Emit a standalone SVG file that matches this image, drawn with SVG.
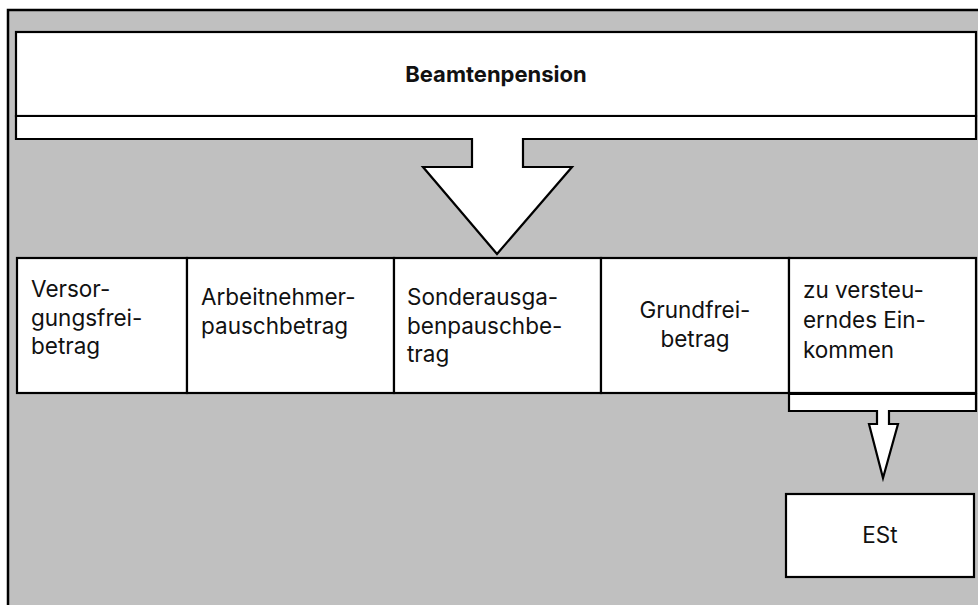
<svg xmlns="http://www.w3.org/2000/svg" width="978" height="605" viewBox="0 0 978 605">
<style>
.bg{fill:#c0c0c0;stroke:#000;stroke-width:2.5}
.box{fill:#fff;stroke:#000;stroke-width:2.2}
.t{font-family:Inter,"Open Sans",sans-serif;font-size:22.5px;fill:#111}
.b{font-weight:bold;font-size:22px}
.c{text-anchor:middle}
</style>
<rect x="0" y="0" width="978" height="605" fill="#fff"/>
<rect class="bg" x="8" y="10" width="990" height="620"/>
<g id="beamtenpension">
<rect class="box" x="16" y="32" width="960" height="84"/>
<text class="t b c" x="496" y="82">Beamtenpension</text>
</g>
<g id="connectors">
<polygon class="box" points="16,116 976,116 976,139 523,139 523,167 572,167 497,254 423,167 472,167 472,139 16,139"/>
<polygon class="box" points="789,394 976,394 976,411 889,411 889,424 898,424 883,478 869,424 877,424 877,411 789,411"/>
</g>
<g id="versorgungsfreibetrag">
<rect class="box" x="17" y="258" width="170" height="135"/>
<text class="t" x="31" y="297">Versor-<tspan x="31" dy="28.5">gungsfrei-</tspan><tspan x="31" dy="28.5">betrag</tspan></text>
</g>
<g id="arbeitnehmerpauschbetrag">
<rect class="box" x="187" y="258" width="207" height="135"/>
<text class="t" x="201" y="305">Arbeitnehmer-<tspan x="201" dy="28.5">pauschbetrag</tspan></text>
</g>
<g id="sonderausgabenpauschbetrag">
<rect class="box" x="394" y="258" width="207" height="135"/>
<text class="t" x="407" y="305">Sonderausga-<tspan x="407" dy="28.5">benpauschbe-</tspan><tspan x="407" dy="28.5">trag</tspan></text>
</g>
<g id="grundfreibetrag">
<rect class="box" x="601" y="258" width="188" height="135"/>
<text class="t c" x="695" y="318">Grundfrei-<tspan x="695" dy="28.5">betrag</tspan></text>
</g>
<g id="zu-versteuerndes-einkommen">
<rect class="box" x="789" y="258" width="187" height="135"/>
<text class="t" x="803" y="298">zu versteu-<tspan x="803" dy="30">erndes Ein-</tspan><tspan x="803" dy="30">kommen</tspan></text>
</g>
<g id="est">
<rect class="box" x="786" y="494" width="188" height="83"/>
<text class="t c" x="880" y="543">ESt</text>
</g>
</svg>
